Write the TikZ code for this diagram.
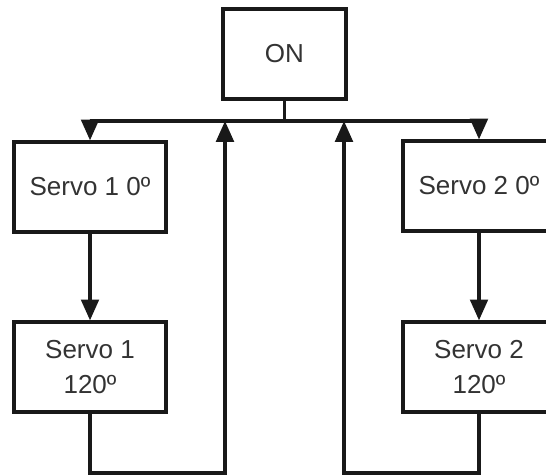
\documentclass[tikz,border=0pt]{standalone}
\usepackage{fontspec}
\setmainfont{Liberation Sans}
\usetikzlibrary{arrows.meta,positioning}
\tikzset{box/.style={draw=black!90,line width=2.3pt,minimum width=3.8cm,minimum height=2.25cm,align=center,text=black!80,font=\fontsize{18.5}{25}\selectfont},
 flow/.style={-{Triangle[width=4.4mm,length=5.2mm]},line width=2.3pt,draw=black!90},
 wire/.style={line width=2.3pt,draw=black!90}}
\begin{document}
\begin{tikzpicture}[x=.025cm,y=-.025cm]
\useasboundingbox (0,0) rectangle (546,475);
\node[box,minimum width=3.075cm] (on) at (284.5,54){ON};
\node[box] (s1a) at (90,187){Servo 1 0º};
\node[box] (s2a) at (479,186){Servo 2 0º};
\node[box] (s1b) at (90,367){Servo 1\\120º};
\node[box] (s2b) at (479,367){Servo 2\\120º};
\coordinate (j) at (284.5,121);
\coordinate (b1) at (225,473);\coordinate (b2) at (344,473);
\draw[wire](on)--(j);
\draw[flow](j)-|(s1a);\draw[flow](j)-|(s2a);
\draw[flow](s1a)--(s1b);\draw[flow](s2a)--(s2b);
\draw[flow](s1b)|-(b1)--(b1|-j);
\draw[flow](s2b)|-(b2)--(b2|-j);
\end{tikzpicture}
\end{document}
